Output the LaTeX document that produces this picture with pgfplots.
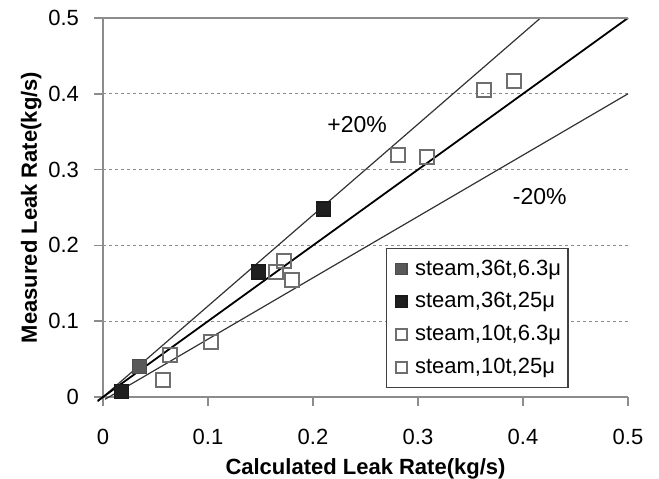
\documentclass[border=0pt]{standalone}
\usepackage{pgfplots}
\pgfplotsset{compat=1.18}
\usetikzlibrary{calc}
\usepackage{fontspec}
\setmainfont{Liberation Sans}
\definecolor{axgray}{HTML}{8C8C8C}
\definecolor{mkgray}{HTML}{6E6E6E}
\begin{document}
\begin{tikzpicture}
\begin{axis}[
  scale only axis,
  width=262.5pt, height=189.5pt,
  xmin=0, xmax=0.5, ymin=0, ymax=0.5,
  xtick={0,0.1,...,0.5}, ytick={0,0.1,...,0.5},
  axis lines*=left,
  axis line style={axgray, line width=0.8pt},
  tick style={axgray, line width=0.8pt},
  tick align=outside,
  major tick length=4.5pt,
  xtick pos=bottom, ytick pos=left,
  ymajorgrids,
  grid style={axgray, dashed, line width=0.5pt, dash pattern=on 1.5pt off 1.5pt},
  /pgf/number format/assume math mode=true,
  ticklabel style={font=\fontsize{11}{13}\selectfont},
  xticklabel style={yshift=-8pt},
  yticklabel style={xshift=-4pt},
  xlabel={\textbf{Calculated Leak Rate(kg/s)}},
  ylabel={\textbf{Measured Leak Rate(kg/s)}},
  label style={font=\fontsize{11}{13}\selectfont},
  xlabel style={yshift=0pt},
  ylabel style={yshift=-3.5pt},
  clip=false,
  legend style={at={(0.887,0.024)}, anchor=south east, draw=black!75, line width=0.6pt,
    font=\fontsize{11}{13}\selectfont, row sep=3.2pt, inner xsep=1.5pt, inner ysep=3.5pt,
    legend cell align=left},
  legend image code/.code={%
    \pgfpathmoveto{\pgfpoint{0pt}{0pt}}\pgfpathlineto{\pgfpoint{10.6pt}{0pt}}\pgfusepath{use as bounding box}%
    \draw[#1, mark size=2.8pt, only marks, mark repeat=2, mark phase=2] plot coordinates {(0pt,0pt) (5.8pt,0pt) (10.6pt,0pt)};},
]
% reference lines
\addplot[black!80, line width=0.6pt, forget plot] coordinates {(-0.005,-0.006) (0.4167,0.5)};
\addplot[black, line width=0.9pt, forget plot] coordinates {(-0.005,-0.005) (0.5,0.5)};
\addplot[black!80, line width=0.6pt, forget plot] coordinates {(0.002,-0.003) (0.5,0.4)};
\draw[axgray, line width=0.8pt] (axis cs:0,0.5) -- (axis cs:0.5,0.5);

\addplot[only marks, mark=square*, mark size=3.5pt, mark options={draw=black!70, fill=black!65, line width=0.6pt}]
  coordinates {(0.035,0.040)};
\addlegendentry{steam,36t,6.3μ}
\addplot[only marks, mark=square*, mark size=3.5pt, mark options={draw=black!90, fill=black!88, line width=0.6pt}]
  coordinates {(0.018,0.007) (0.148,0.165) (0.210,0.248)};
\addlegendentry{steam,36t,25μ}
\addplot[only marks, mark=square, mark size=3.5pt, mark options={draw=mkgray, line width=1pt}]
  coordinates {(0.057,0.023) (0.064,0.056) (0.103,0.073) (0.165,0.165) (0.180,0.154)};
\addlegendentry{steam,10t,6.3μ}
\addplot[only marks, mark=square, mark size=3.5pt, mark options={draw=mkgray, line width=1pt}]
  coordinates {(0.172,0.180) (0.281,0.319) (0.309,0.317) (0.363,0.405) (0.391,0.417)};
\addlegendentry{steam,10t,25μ}

\node[font=\fontsize{11.5}{13}\selectfont] at (axis cs:0.242,0.359) {+20\%};
\node[font=\fontsize{11.5}{13}\selectfont] at (axis cs:0.416,0.265) {-20\%};
\coordinate (sw) at (rel axis cs:0,0);
\coordinate (ne) at (rel axis cs:1,1);
\end{axis}
\pgfresetboundingbox
\path ($(sw)+(-51.5pt,-41pt)$) rectangle ($(ne)+(15.5pt,9pt)$);
\end{tikzpicture}
\end{document}
